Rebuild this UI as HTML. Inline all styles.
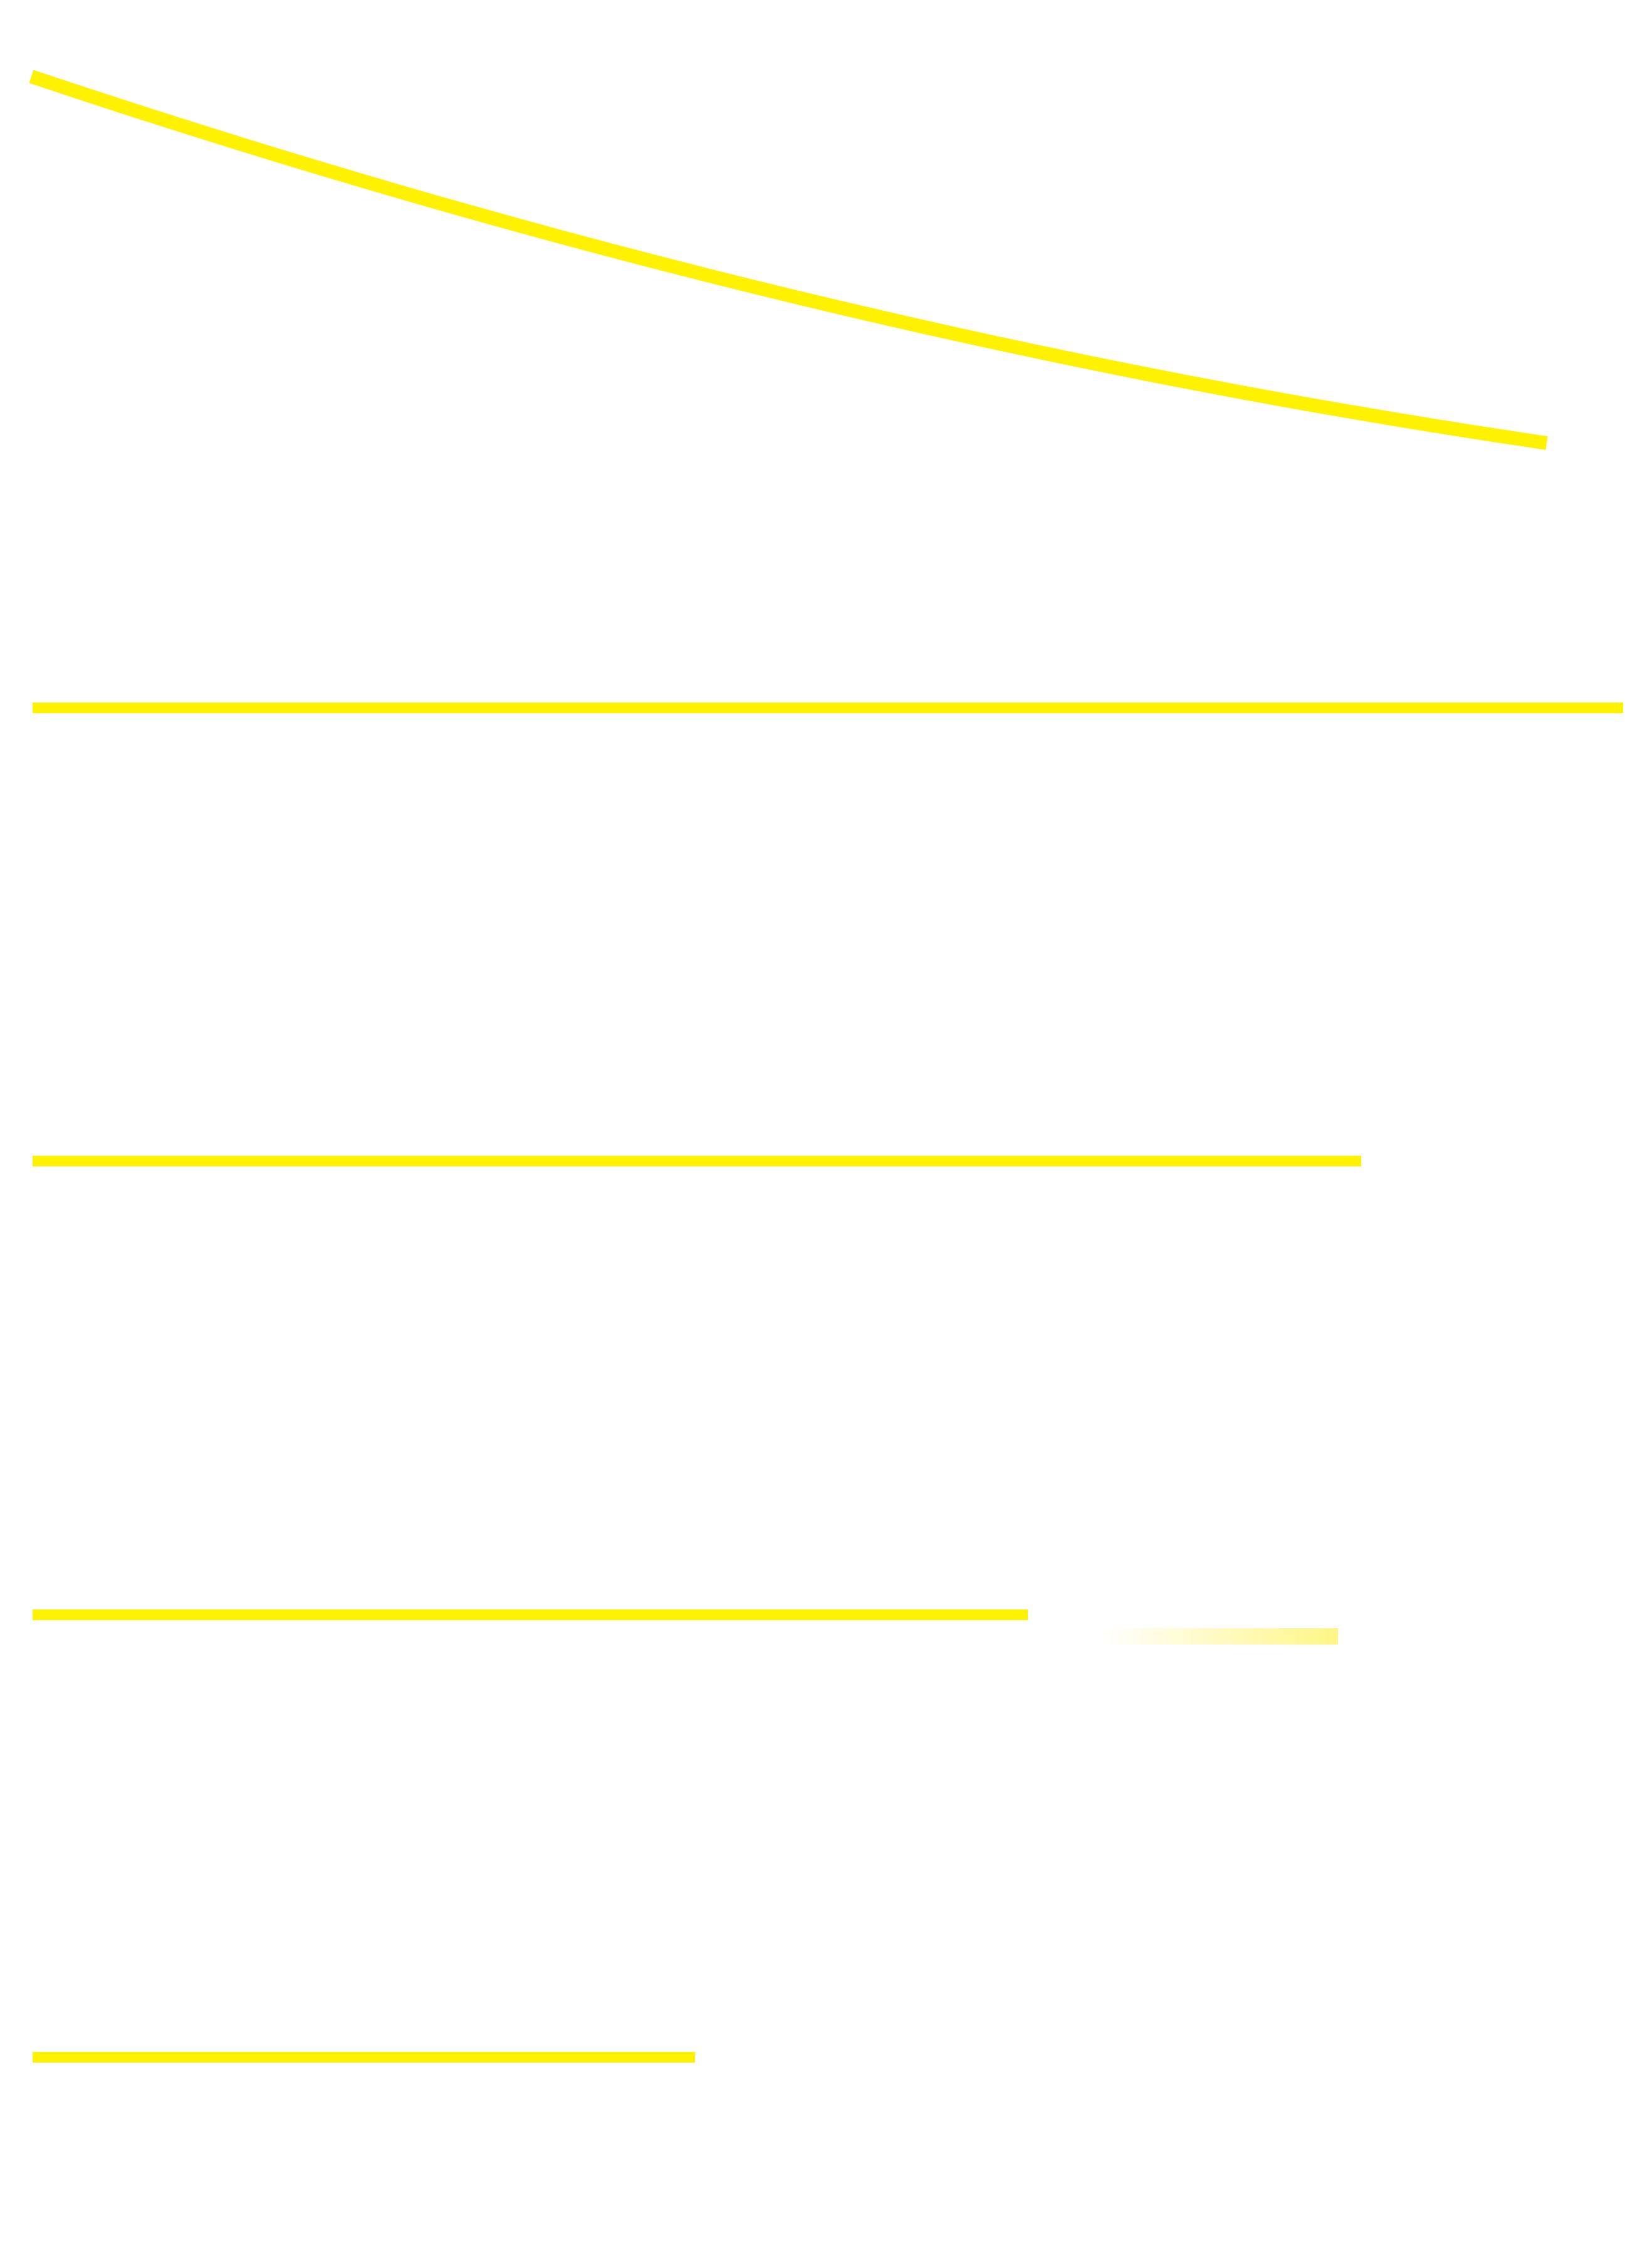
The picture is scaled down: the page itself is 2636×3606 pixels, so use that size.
<!DOCTYPE html>
<html><head><meta charset="utf-8"><style>
html,body{margin:0;padding:0;background:#fff;}
body{width:2636px;height:3606px;position:relative;overflow:hidden;}
.b{position:absolute;left:52px;height:17px;background:#fff200;}
</style></head><body>
<svg width="2636" height="3606" style="position:absolute;left:0;top:0">
<defs><linearGradient id="g" x1="0" x2="1" y1="0" y2="0"><stop offset="0" stop-color="#ffffff"/><stop offset="0.25" stop-color="#fffce0"/><stop offset="1" stop-color="#fff685"/></linearGradient></defs>
<path d="M50 122 Q1266 530 2468 707" fill="none" stroke="#fff200" stroke-width="22"/>
<rect x="1760" y="2598" width="375" height="26" fill="url(#g)"/>
</svg>
<div class="b" style="top:1121px;width:2538px"></div>
<div class="b" style="top:1844px;width:2120px"></div>
<div class="b" style="top:2568px;width:1588px"></div>
<div class="b" style="top:3274px;width:1057px"></div>
</body></html>
